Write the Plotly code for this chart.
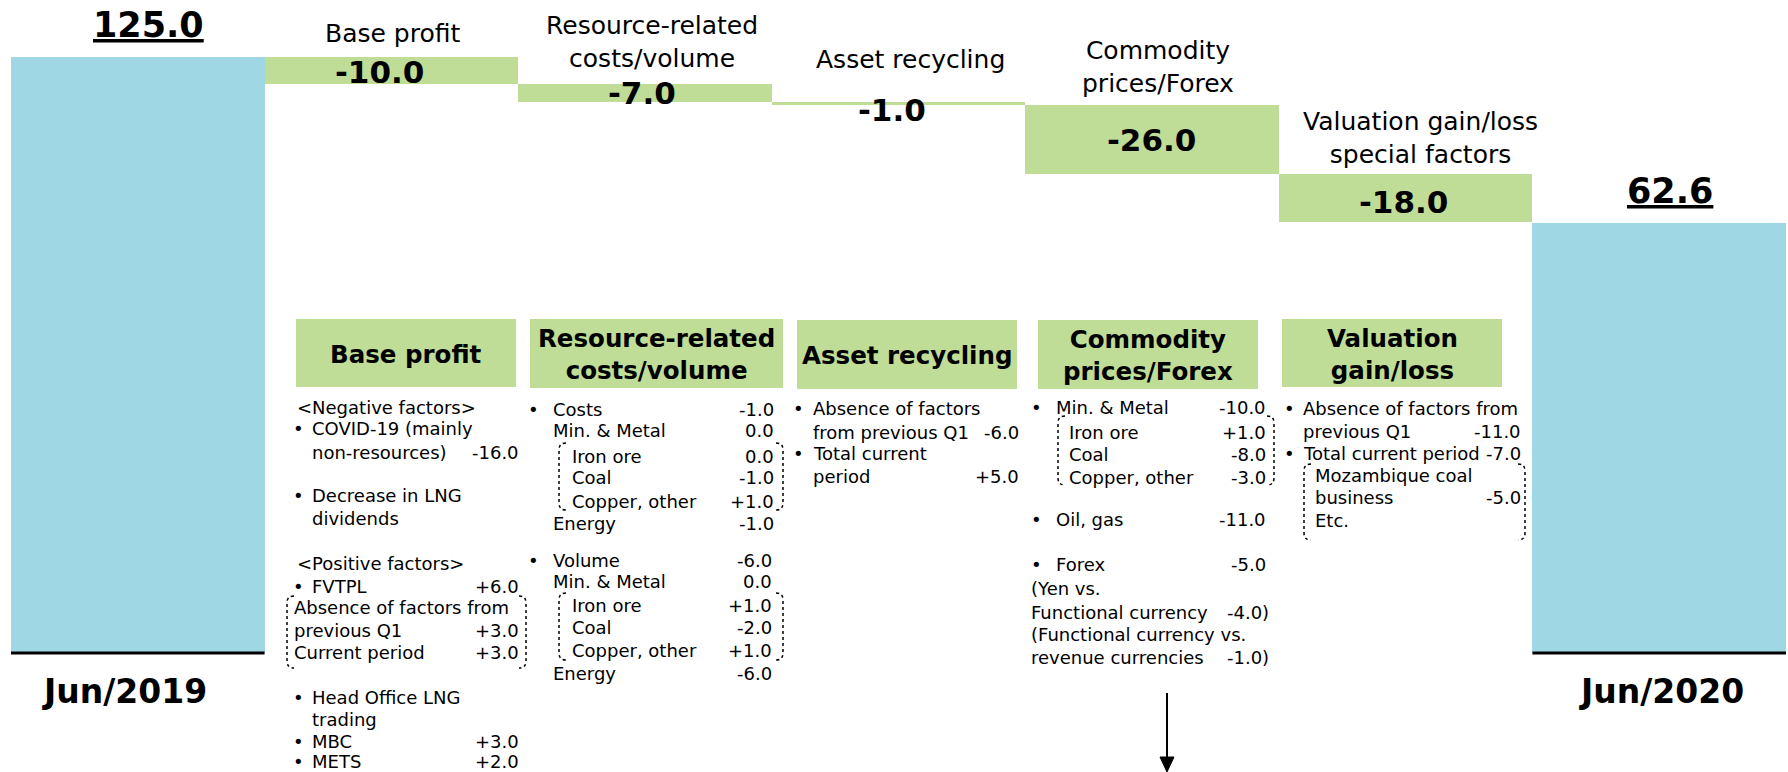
import plotly.graph_objects as go

# ------------------------------------------------------------------ data
PERIODS = ["Jun/2019", "Jun/2020"]
START_VALUE = 125.0
END_VALUE = 62.6
FACTOR_NAMES = ["Base profit", "Resource-related<br>costs/volume", "Asset recycling",
                "Commodity<br>prices/Forex", "Valuation gain/loss<br>special factors"]
FACTOR_DELTAS = [-10.0, -7.0, -1.0, -26.0, -18.0]
HEADER_NAMES = ["Base profit", "Resource-related<br>costs/volume", "Asset recycling",
                "Commodity<br>prices/Forex", "Valuation<br>gain/loss"]

# breakdown text (content only)
COL1_LABELS = ["&lt;Negative factors&gt;", "COVID-19 (mainly", "non-resources)", "Decrease in LNG",
               "dividends", "&lt;Positive factors&gt;", "FVTPL", "Absence of factors from",
               "previous Q1", "Current period", "Head Office LNG", "trading", "MBC", "METS"]
COL1_VALUES = ["", "", "-16.0", "", "", "", "+6.0", "", "+3.0", "+3.0", "", "", "+3.0", "+2.0"]
COL1_BULLETS = [0, 1, 0, 1, 0, 0, 1, 0, 0, 0, 1, 0, 1, 1]

COL2_LABELS = ["Costs", "Min. &amp; Metal", "Iron ore", "Coal", "Copper, other", "Energy",
               "Volume", "Min. &amp; Metal", "Iron ore", "Coal", "Copper, other", "Energy"]
COL2_VALUES = ["-1.0", "0.0", "0.0", "-1.0", "+1.0", "-1.0",
               "-6.0", "0.0", "+1.0", "-2.0", "+1.0", "-6.0"]
COL2_BULLETS = [1, 0, 0, 0, 0, 0, 1, 0, 0, 0, 0, 0]

COL3_LABELS = ["Absence of factors", "from previous Q1", "Total current", "period"]
COL3_VALUES = ["", "-6.0", "", "+5.0"]
COL3_BULLETS = [1, 0, 1, 0]

COL4_LABELS = ["Min. &amp; Metal", "Iron ore", "Coal", "Copper, other", "Oil, gas", "Forex",
               "(Yen vs.", "Functional currency", "(Functional currency vs.", "revenue currencies"]
COL4_VALUES = ["-10.0", "+1.0", "-8.0", "-3.0", "-11.0", "-5.0", "", "-4.0)", "", "-1.0)"]
COL4_BULLETS = [1, 0, 0, 0, 1, 1, 0, 0, 0, 0]

COL5_LABELS = ["Absence of factors from", "previous Q1", "Total current period",
               "Mozambique coal", "business", "Etc."]
COL5_VALUES = ["", "-11.0", "-7.0", "", "-5.0", ""]
COL5_BULLETS = [1, 0, 1, 0, 0, 0]

# ------------------------------------------------------------------ layout constants
W, H = 1788, 772
BLUE = "#A0D7E5"
GREEN = "#BFDD97"
FONT = "DejaVu Sans, Verdana, sans-serif"
PX_PER_UNIT = 2.656
BAR_UNIT_PX = 1775 / 7.0
Y_TOP = START_VALUE + 57 / PX_PER_UNIT
Y_BOTTOM = Y_TOP - H / PX_PER_UNIT
FLOOR = Y_TOP - 653 / PX_PER_UNIT          # visual baseline of the (broken-axis) totals
X_RANGE = [-0.5 - 11 / BAR_UNIT_PX, 6.5 + 2 / BAR_UNIT_PX]


def pxx(p):
    return p / W


def pxy(p):
    return 1 - p / H


# ------------------------------------------------------------------ bars from data
values_all = [START_VALUE] + FACTOR_DELTAS + [END_VALUE]
n = len(values_all)
xs = list(range(n))
bases, heights, colors, mids = [], [], [], []
running = START_VALUE
for i, v in enumerate(values_all):
    if i == 0 or i == n - 1:
        bases.append(FLOOR)
        heights.append(v - FLOOR)
        colors.append(BLUE)
        mids.append(v)
    else:
        after = running + v
        bases.append(after)
        heights.append(-v)
        colors.append(GREEN)
        mids.append((running + after) / 2)
        running = after

fig = go.Figure()
fig.add_trace(go.Bar(x=xs, y=heights, base=bases, width=1.0,
                     marker=dict(color=colors, line=dict(width=0)),
                     hoverinfo="skip", showlegend=False))

ann = []
shapes = []


def note(text, x, y, size, weight=400, xanchor="left", yanchor="middle",
         xref="paper", yref="paper", xshift=0, yshift=0):
    ann.append(dict(text=text, x=x, y=y, xref=xref, yref=yref, showarrow=False,
                    xanchor=xanchor, yanchor=yanchor, xshift=xshift, yshift=yshift,
                    font=dict(family=FONT, size=size, color="black", weight=weight),
                    align="center" if xanchor == "center" else "left"))


# total labels (underlined) + period labels + baselines
total_idx = [0, n - 1]
for k, i in enumerate(total_idx):
    note("<u>%.1f</u>" % values_all[i], i, values_all[i], 35, 700, "center", "bottom",
         "x", "y", xshift=11, yshift=10)
    note(PERIODS[k], i, pxy(691), 33, 700, "center", "middle", "x", "paper",
         xshift=(-13 if k == 0 else 2))
    shapes.append(dict(type="line", xref="x", yref="y", x0=i - 0.5, x1=i + 0.5,
                       y0=FLOOR, y1=FLOOR, line=dict(color="black", width=3)))

# delta value labels
VALUE_SHIFTS = [(-12, -2), (-3, 0), (-7, -7), (-1, -1), (-2, -4)]
for j, d in enumerate(FACTOR_DELTAS):
    i = j + 1
    note("%.1f" % d, i, mids[i], 31, 700, "center", "middle", "x", "y",
         xshift=VALUE_SHIFTS[j][0], yshift=VALUE_SHIFTS[j][1])

# factor names above the bars
NAME_POS = [(392, 33), (652, 42), (910, 59), (1158, 67), (1420, 138)]
for j, name in enumerate(FACTOR_NAMES):
    note(name, pxx(NAME_POS[j][0]), pxy(NAME_POS[j][1]), 25, 400, "center", "middle")

# header boxes
HEADER_BOX = [(296, 516, 319, 387), (530, 783, 319, 388), (797, 1017, 320, 389),
              (1038, 1258, 320, 389), (1282, 1502, 319, 387)]
for j, name in enumerate(HEADER_NAMES):
    x0, x1, y0, y1 = HEADER_BOX[j]
    shapes.append(dict(type="rect", xref="paper", yref="paper", x0=pxx(x0), x1=pxx(x1),
                       y0=pxy(y1), y1=pxy(y0), fillcolor=GREEN, line=dict(width=0)))
    note(name, pxx((x0 + x1) / 2), pxy((y0 + y1) / 2 + 1), 24.5, 700, "center", "middle")

# breakdown columns
COLUMNS = [
    dict(labels=COL1_LABELS, values=COL1_VALUES, bullets=COL1_BULLETS,
         ys=[407, 428, 452, 496, 518, 563, 586, 607, 630, 652, 697, 719, 741, 761],
         xs=[295, 310, 310, 310, 310, 295, 310, 292, 292, 292, 310, 310, 310, 310],
         bx=291, right=[521] * 14),
    dict(labels=COL2_LABELS, values=COL2_VALUES, bullets=COL2_BULLETS,
         ys=[409, 430, 456, 477, 501, 523, 560, 581, 605, 627, 650, 673],
         xs=[551, 551, 570, 570, 570, 551, 551, 551, 570, 570, 570, 551],
         bx=526, right=[776] * 6 + [774] * 6),
    dict(labels=COL3_LABELS, values=COL3_VALUES, bullets=COL3_BULLETS,
         ys=[408, 432, 453, 476], xs=[811] * 4, bx=791, right=[1021] * 4),
    dict(labels=COL4_LABELS, values=COL4_VALUES, bullets=COL4_BULLETS,
         ys=[407, 432, 454, 477, 519, 564, 588, 612, 634, 657],
         xs=[1054, 1067, 1067, 1067, 1054, 1054, 1029, 1029, 1029, 1029],
         bx=1029, right=[1268] * 6 + [1271] * 4),
    dict(labels=COL5_LABELS, values=COL5_VALUES, bullets=COL5_BULLETS,
         ys=[408, 431, 453, 475, 498, 520], xs=[1301, 1301, 1301, 1313, 1313, 1313],
         bx=1282, right=[1523] * 6),
]
for col in COLUMNS:
    for r, lab in enumerate(col["labels"]):
        y = pxy(col["ys"][r])
        note(lab, pxx(col["xs"][r]), y, 18)
        if col["bullets"][r]:
            note("•", pxx(col["bx"]), y, 18)
        if col["values"][r]:
            note(col["values"][r], pxx(col["right"][r]), y, 18, 400, "right")

# dotted brackets


def bracket(x0, x1, y0, y1, c=7):
    left = "M %f %f Q %f %f %f %f L %f %f Q %f %f %f %f" % (
        pxx(x0 + c), pxy(y0), pxx(x0), pxy(y0), pxx(x0), pxy(y0 + c),
        pxx(x0), pxy(y1 - c), pxx(x0), pxy(y1), pxx(x0 + c), pxy(y1))
    right = "M %f %f Q %f %f %f %f L %f %f Q %f %f %f %f" % (
        pxx(x1 - c), pxy(y0), pxx(x1), pxy(y0), pxx(x1), pxy(y0 + c),
        pxx(x1), pxy(y1 - c), pxx(x1), pxy(y1), pxx(x1 - c), pxy(y1))
    for p in (left, right):
        shapes.append(dict(type="path", xref="paper", yref="paper", path=p,
                           line=dict(color="black", width=1.5, dash="dot")))


for b in [(287, 526, 596, 668), (559, 783, 443, 510), (559, 783, 593, 660),
          (1058, 1274, 416, 485), (1304, 1525, 464, 540)]:
    bracket(*b)

# arrow
shapes.append(dict(type="line", xref="paper", yref="paper", x0=pxx(1167), x1=pxx(1167),
                   y0=pxy(693), y1=pxy(760), line=dict(color="black", width=2)))
shapes.append(dict(type="path", xref="paper", yref="paper",
                   path="M %f %f L %f %f L %f %f Z" % (pxx(1160), pxy(757), pxx(1174), pxy(757),
                                                       pxx(1167), pxy(772)),
                   fillcolor="black", line=dict(color="black", width=1)))

fig.update_layout(
    width=W, height=H, margin=dict(l=0, r=0, t=0, b=0),
    paper_bgcolor="white", plot_bgcolor="white", bargap=0, showlegend=False,
    xaxis=dict(visible=False, range=X_RANGE, fixedrange=True),
    yaxis=dict(visible=False, range=[Y_BOTTOM, Y_TOP], fixedrange=True),
    annotations=ann, shapes=shapes,
)
fig.write_html("out.html", config={"displayModeBar": False},
               post_script="document.body.style.margin='0';")
